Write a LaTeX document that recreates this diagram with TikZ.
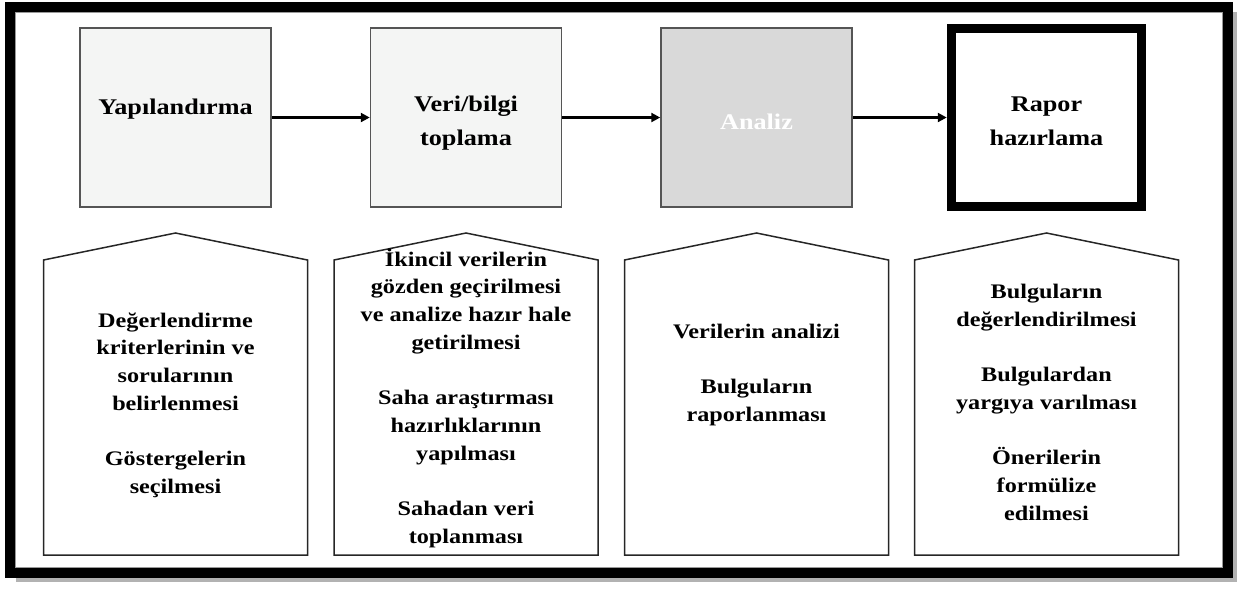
\documentclass[tikz,border=0pt]{standalone}
\usepackage{fontspec}
\setmainfont{Liberation Serif}[FakeStretch=1.17]
\usetikzlibrary{arrows.meta}

\definecolor{stagefill}{HTML}{F4F5F4}
\definecolor{analizfill}{HTML}{D9D9D9}
\definecolor{edgegray}{HTML}{555555}

\tikzset{
  stage/.style={draw=edgegray, line width=0.75pt, fill=stagefill,
    minimum width=95.5pt, minimum height=89.5pt, inner sep=0pt,
    align=center, font=\bfseries\fontsize{11.2}{17}\selectfont},
  twolines/.style={text height=30pt, text depth=2.5pt},
  flow/.style={line width=1.5pt, -{Triangle[length=4.5pt,width=4.5pt]}},
  roof/.style={draw=black!85, line width=0.75pt},
  task/.style={align=center, inner sep=0pt,
    font=\bfseries\fontsize{10.35}{13.85}\selectfont}
}

\begin{document}
\begin{tikzpicture}[x=0.5pt, y=-0.5pt]
\useasboundingbox (0,0) rectangle (1238,591);

%cadre
\draw[black!30, line width=5pt] (1231.5,12) -- (1231.5,576.5) -- (16,576.5);
\draw[line width=5pt] (10,6.5) rectangle (1227.5,572.5);
\draw[black!40, line width=0.5pt] (15.5,12) rectangle (1222,567);

%étapes
\node[stage, text height=8pt, text depth=11pt] (struct) at (175.5,117.5) {Yapılandırma};
\node[stage, twolines] (collect) at (466,117.5) {Veri/bilgi\\toplama};
\node[stage, fill=analizfill, text=white, text height=12pt, text depth=0pt] (analysis) at (756.5,117.5) {Analiz};
\node[stage, twolines, draw=black, line width=4.75pt, fill=white, minimum width=95pt, minimum height=89pt] (report) at (1046.5,117.5) {Rapor\\hazırlama};

\draw[flow] (struct) -- (collect);
\draw[flow] (collect) -- (analysis);
\draw[flow] (analysis) -- (report);

%activités
\foreach \cx in {175.5,466,756.5,1046.5}
  \draw[roof] ({\cx-132},555) -- ({\cx-132},260) -- (\cx,233) -- ({\cx+132},260) -- ({\cx+132},555) -- cycle;

\node[task] (design) at (175.5,405) {Değerlendirme\\kriterlerinin ve\\sorularının\\belirlenmesi\\[13.85pt]Göstergelerin\\seçilmesi};
\node[task] (fieldwork) at (466,398) {İkincil verilerin\\gözden geçirilmesi\\ve analize hazır hale\\getirilmesi\\[13.85pt]Saha araştırması\\hazırlıklarının\\yapılması\\[13.85pt]Sahadan veri\\toplanması};
\node[task] (findings) at (756.5,375) {Verilerin analizi\\[13.85pt]Bulguların\\raporlanması};
\node[task] (judgement) at (1046.5,402.5) {Bulguların\\değerlendirilmesi\\[13.85pt]Bulgulardan\\yargıya varılması\\[13.85pt]Önerilerin\\formülize\\edilmesi};
\end{tikzpicture}
\end{document}
